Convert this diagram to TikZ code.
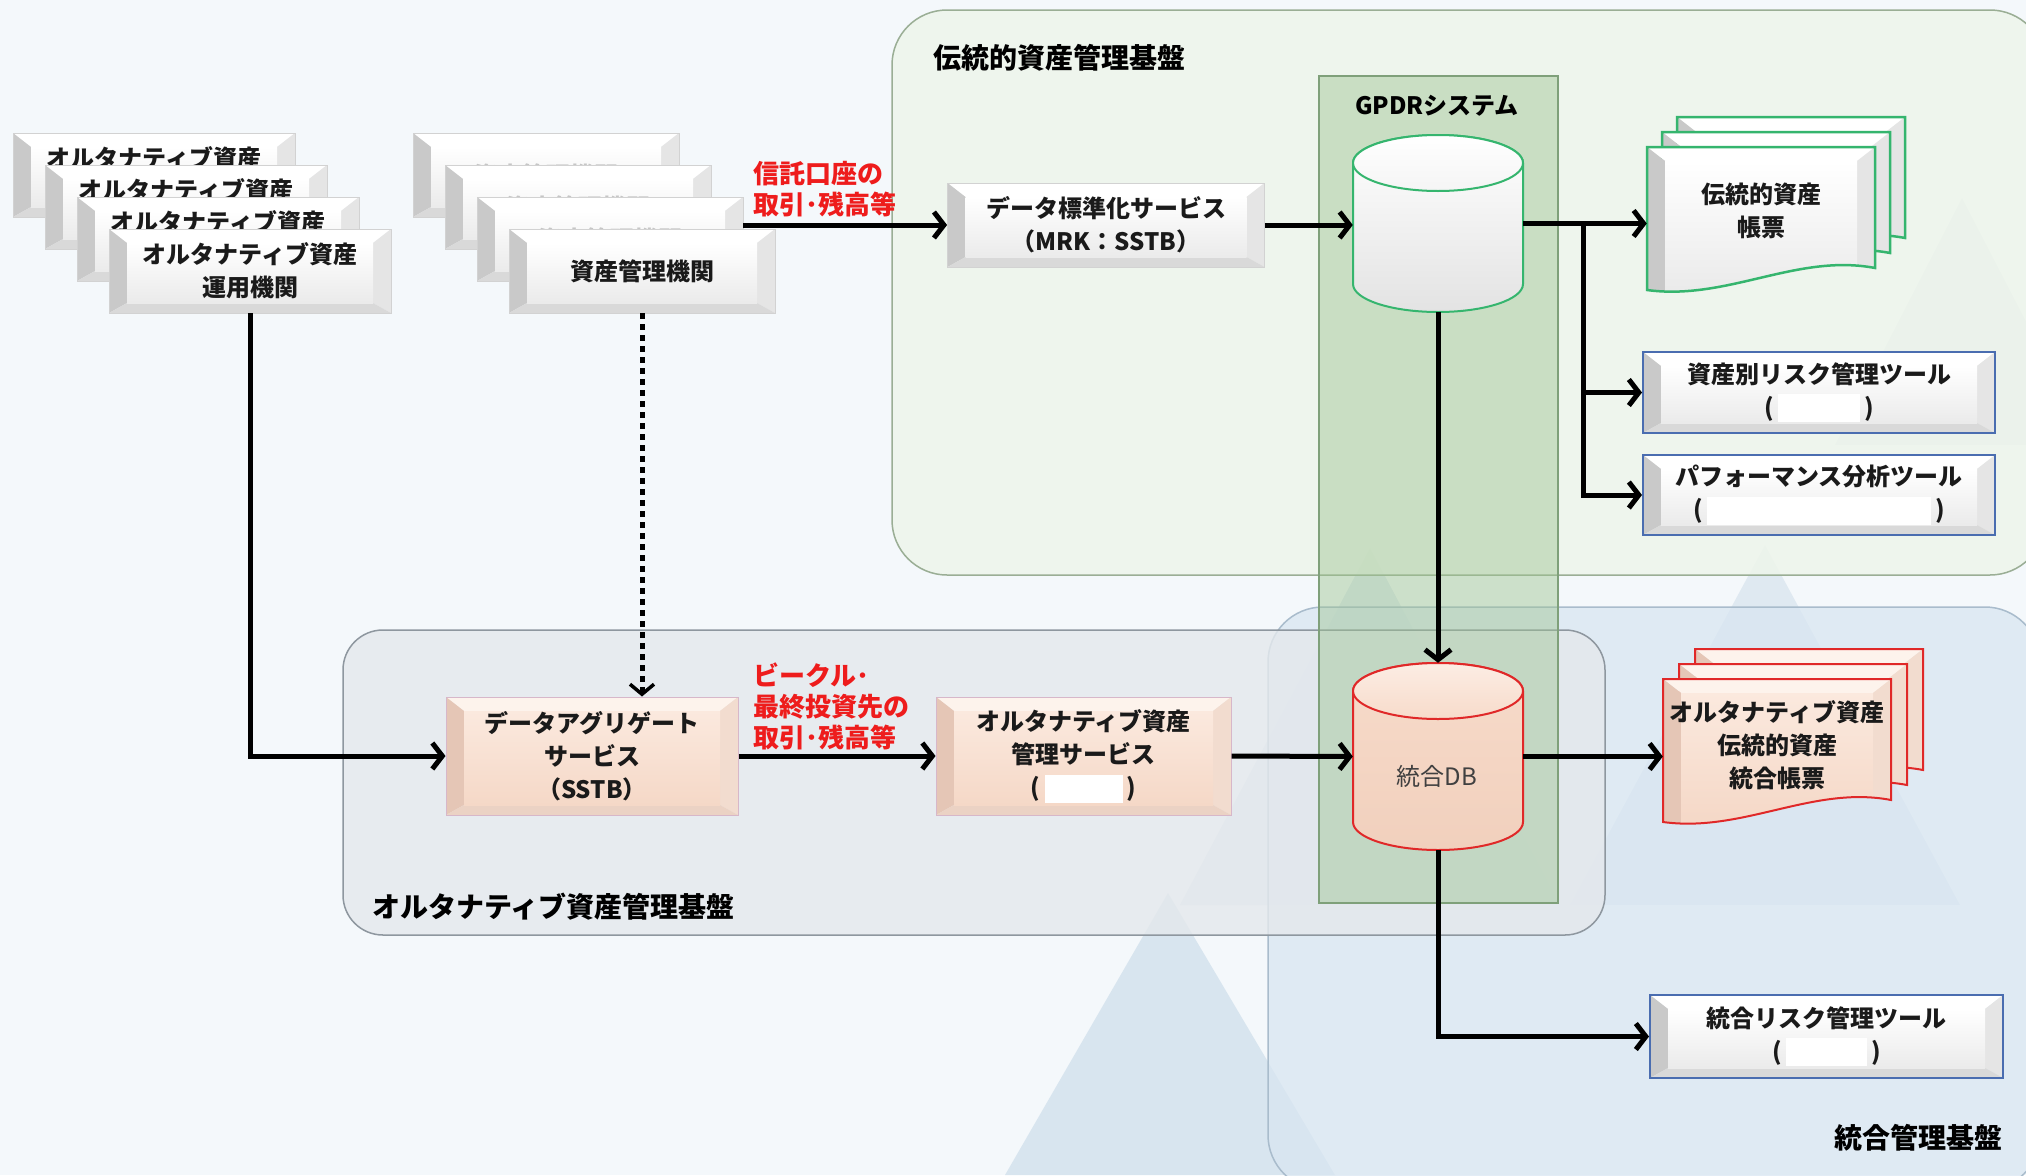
\documentclass[tikz,border=0pt]{standalone}
\usepackage{fontspec}
\setmainfont{Noto Sans CJK JP}
\usetikzlibrary{arrows.meta}
\definecolor{bgc}{HTML}{F4F8FB}
\definecolor{trdc}{HTML}{EEF5EB}
\definecolor{trdb}{HTML}{9AAE95}
\definecolor{intc}{HTML}{D9E6F1}
\definecolor{intb}{HTML}{A9BCCC}
\definecolor{altc}{HTML}{E4E8EC}
\definecolor{altb}{HTML}{8E979F}
\definecolor{gpdrc}{HTML}{9DC490}
\definecolor{gpdrb}{HTML}{7FA07A}
\definecolor{tria}{HTML}{C6D8E6}
\definecolor{trib}{HTML}{D2E1EC}
\definecolor{pkt}{HTML}{FDF3EC}
\definecolor{pkl}{HTML}{E5C6B6}
\definecolor{pkr}{HTML}{F2DCCF}
\definecolor{pkbt}{HTML}{EBD2C4}
\definecolor{pkfa}{HTML}{FBE9DE}
\definecolor{pkfb}{HTML}{F5D8C7}
\definecolor{pkb}{HTML}{D7B7C9}
\definecolor{toolb}{HTML}{4A6DB0}
\definecolor{grn}{HTML}{35B56E}
\definecolor{redb}{HTML}{E02828}
\definecolor{redc}{HTML}{EE1C1C}
\definecolor{dbtxt}{HTML}{404040}
\definecolor{cylpk}{HTML}{F7DBCA}
\definecolor{cylpkb}{HTML}{F1D0BD}
\definecolor{cylpkt}{HTML}{FCEDE4}
\definecolor{txtc}{HTML}{1A1A1A}

\tikzset{
  bevel/.style n args={5}{path picture={
    \coordinate (bNW) at (path picture bounding box.north west);
    \coordinate (bNE) at (path picture bounding box.north east);
    \coordinate (bSW) at (path picture bounding box.south west);
    \coordinate (bSE) at (path picture bounding box.south east);
    \coordinate (iNW) at ([shift={(18pt,-14pt)}]bNW);
    \coordinate (iNE) at ([shift={(-18pt,-14pt)}]bNE);
    \coordinate (iSW) at ([shift={(18pt,10pt)}]bSW);
    \coordinate (iSE) at ([shift={(-18pt,10pt)}]bSE);
    \fill[#1] (bNW)--(bNE)--(iNE)--(iNW)--cycle;
    \fill[#2] (bNW)--(iNW)--(iSW)--(bSW)--cycle;
    \fill[#3] (bNE)--(iNE)--(iSE)--(bSE)--cycle;
    \fill[#4] (bSW)--(iSW)--(iSE)--(bSE)--cycle;
    \shade[#5] (iNW) rectangle (iSE);
  }},
  txt/.style={font=\fontsize{24}{33}\selectfont\bfseries,text=txtc,align=center,inner sep=0pt},
  graybevel/.style={bevel={white}{gray!42}{gray!20}{gray!30}{top color=white,bottom color=gray!16}},
  peachbevel/.style={bevel={pkt}{pkl}{pkr}{pkbt}{top color=pkfa,bottom color=pkfb}},
  graybox/.style={txt,draw=gray!35,line width=0.8pt,graybevel},
  peachbox/.style={txt,draw=pkb,line width=1pt,peachbevel},
  toolbox/.style={txt,draw=toolb,line width=2pt,graybevel},
  conn/.style={line width=5pt,-{Straight Barb[length=10pt,width=26pt]}},
  dotconn/.style={line width=5pt,dash pattern=on 6pt off 5pt,-{Straight Barb[length=10pt,width=24pt,line width=3.5pt]}},
  regtitle/.style={font=\fontsize{28}{32}\selectfont\bfseries,inner sep=0pt},
  redlab/.style={font=\fontsize{26}{31}\selectfont\bfseries,text=redc,align=left,inner sep=0pt},
  ghost/.style={inner sep=0pt,draw=none},
  greendoc/.style={draw=grn,line width=2.5pt,graybevel},
  reddoc/.style={draw=redb,line width=2pt,peachbevel},
}

% cylinder: #1 cx, #2 top y, #3 bottom y, #4 body style, #5 top style
\newcommand\drawcyl[5]{%
  \path[#4] ({#1-85},{#2+28}) -- ({#1-85},{#3-28})
    arc[start angle=180,end angle=360,x radius=85pt,y radius=28pt]
    -- ({#1+85},{#2+28})
    arc[start angle=0,end angle=180,x radius=85pt,y radius=28pt] -- cycle;
  \path[#5] (#1,{#2+28}) ellipse[x radius=85pt,y radius=28pt];
}
% document shape: #1 left x, #2 top y, #3 style
\newcommand\docpath[3]{%
  \path[#3] (#1,#2) -- ({#1+228},#2) -- ({#1+228},{#2+121})
    .. controls ({#1+150},{#2+106}) and ({#1+80},{#2+154}) .. (#1,{#2+143}) -- cycle;
}
\newcommand\blankbox[1]{{\setlength{\fboxsep}{0pt}\colorbox{white}{\rule[-6pt]{0pt}{28pt}\hspace*{#1}}}}

\begin{document}
\begin{tikzpicture}[x=1pt,y=-1pt]
\useasboundingbox (0,0) rectangle (2026,1175);
\begin{scope}
  \clip (0,0) rectangle (2026,1175);
  \fill[bgc] (0,0) rectangle (2026,1175);
  % faint background mountains
  \fill[trib,opacity=0.8] (1005,1175) -- (1168,893) -- (1335,1175) -- cycle;
  \fill[tria,opacity=0.45] (1180,905) -- (1370,548) -- (1560,905) -- cycle;
  \fill[tria,opacity=0.45] (1570,905) -- (1765,545) -- (1960,905) -- cycle;
  \fill[tria,opacity=0.55] (1835,445) -- (1962,198) -- (2090,445) -- cycle;
  % regions
  \draw[draw=trdb,fill=trdc,fill opacity=0.85,line width=1.5pt,rounded corners=55pt] (892,10) rectangle (2045,575);
  \draw[draw=intb,fill=intc,fill opacity=0.75,line width=1.5pt,rounded corners=55pt] (1268,607) rectangle (2040,1190);
  \draw[draw=altb,fill=altc,fill opacity=0.8,line width=1.5pt,rounded corners=40pt] (343,630) rectangle (1605,935);
  \draw[draw=gpdrb,fill=gpdrc,fill opacity=0.45,line width=2pt] (1319,76) rectangle (1558,903);
\end{scope}

% region titles
\node[regtitle,anchor=west] (ttrd) at (933,58) {伝統的資産管理基盤};
\node[font=\fontsize{24}{28}\selectfont\bfseries,inner sep=0pt] (tgpdr) at (1437,106) {GPDRシステム};
\node[regtitle,anchor=west] (talt) at (372,907) {オルタナティブ資産管理基盤};
\node[regtitle,anchor=east] (tint) at (2003,1138) {統合管理基盤};

% alternative asset operators (stack)
\foreach \i/\x/\y in {1/154/175,2/186/207,3/218/239}
  \node[graybox,minimum width=282pt,minimum height=84pt] (ao\i) at (\x,\y) {オルタナティブ資産\\\phantom{運用機関}};
\node[graybox,minimum width=282pt,minimum height=84pt] (ao4) at (250,271) {オルタナティブ資産\\運用機関};

% asset management institutions (stack)
\foreach \i/\x/\y in {1/546/175,2/578/207,3/610/239}
  \node[graybox,minimum width=266pt,minimum height=84pt,text=gray!45] (am\i) at (\x,\y) {資産管理機関};
\node[graybox,minimum width=266pt,minimum height=84pt] (am4) at (642,271) {資産管理機関};

% data standardization service
\node[graybox,minimum width=317pt,minimum height=84pt] (dstd) at (1106,225) {データ標準化サービス\\（MRK：SSTB）};

% GPDR database
\drawcyl{1438}{135}{312}{draw=grn,line width=2pt,top color=white,bottom color=gray!22}{draw=grn,line width=2pt,top color=white,bottom color=gray!8}
\node[ghost,minimum width=170pt,minimum height=177pt] (gpdr) at (1438,223.5) {};

% traditional asset reports
\docpath{1677}{117}{greendoc}
\docpath{1662}{132}{greendoc}
\docpath{1647}{147}{greendoc}
\node[txt,minimum width=228pt] (trdoc) at (1761,211) {伝統的資産\\帳票};

% tools
\node[toolbox,minimum width=352pt,minimum height=81pt] (risk) at (1819,392.5) {資産別リスク管理ツール\\(\,\blankbox{82pt}\,)};
\node[toolbox,minimum width=352pt,minimum height=80pt] (perf) at (1819,495) {パフォーマンス分析ツール\\(\,\blankbox{224pt}\,)};

% integrated DB
\drawcyl{1438}{663}{850}{draw=redb,line width=2pt,top color=cylpk,bottom color=cylpkb}{draw=redb,line width=2pt,top color=cylpkt,bottom color=cylpk}
\node[ghost,minimum width=170pt,minimum height=187pt] (idb) at (1438,756.5) {};
\node[font=\fontsize{24}{28}\selectfont,text=dbtxt,inner sep=0pt] (idbt) at (1437,776) {統合DB};

% integrated reports
\docpath{1695}{649}{reddoc}
\docpath{1679}{664}{reddoc}
\docpath{1663}{679}{reddoc}
\node[txt,minimum width=228pt] (altdoc) at (1777,745) {オルタナティブ資産\\伝統的資産\\統合帳票};

% integrated risk tool
\node[toolbox,minimum width=353pt,minimum height=83pt] (irisk) at (1826.5,1036.5) {統合リスク管理ツール\\(\,\blankbox{81pt}\,)};

% alternative platform services
\node[peachbox,minimum width=292pt,minimum height=118pt] (agg) at (592,756) {データアグリゲート\\サービス\\（SSTB）};
\node[peachbox,minimum width=295pt,minimum height=118pt] (altsvc) at (1083.5,756) {オルタナティブ資産\\管理サービス\\(\,\blankbox{78pt}\,)};

% red labels
\node[redlab,anchor=west] (lab1) at (753,189) {信託口座の\\取引･残高等};
\node[redlab,anchor=west] (lab2) at (753,706) {ビークル･\\最終投資先の\\取引･残高等};

% connectors
\draw[conn] (am3.east |- dstd.west) -- (dstd.west);
\draw[conn] (dstd.east) -- (dstd.east -| gpdr.west);
\coordinate (br) at ([xshift=60pt]gpdr.east);
\draw[conn] (gpdr.east) -- (gpdr.east -| trdoc.west);
\draw[conn] (br) |- (risk.west);
\draw[conn] (br) |- (perf.west);
\draw[conn] (gpdr.south) -- (idb.north);
\draw[conn] (idb.east) -- (idb.east -| altdoc.west);
\draw[conn] (idb.south) |- (irisk.west);
\draw[conn] (altsvc.east) -- (idb.west);
\draw[conn] (agg.east) -- (altsvc.west);
\draw[conn] (ao4.south) |- (agg.west);
\draw[dotconn] (am4.south) -- (am4.south |- agg.north);
\end{tikzpicture}
\end{document}
